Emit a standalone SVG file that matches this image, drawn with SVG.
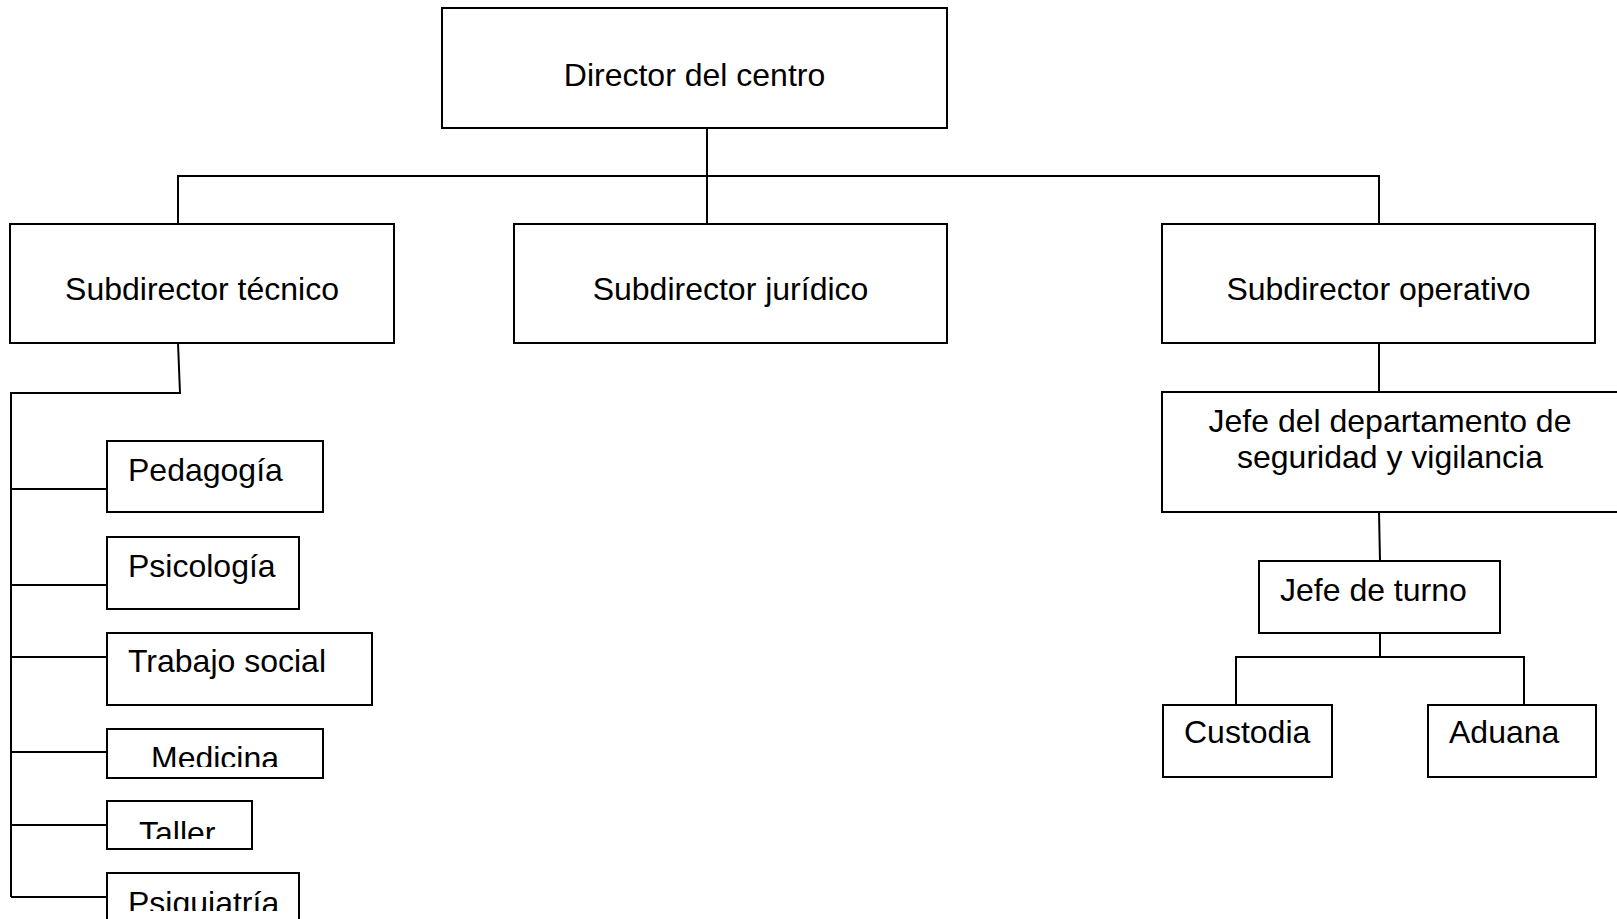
<svg xmlns="http://www.w3.org/2000/svg" width="1617" height="919" viewBox="0 0 1617 919">
<style>
.box{fill:#fff;stroke:#000;stroke-width:2}
.ln{fill:none;stroke:#000;stroke-width:2}
text{font-family:"Liberation Sans",Arial,sans-serif;font-size:32px;fill:#000}
.c{text-anchor:middle}
</style>
<defs>
<clipPath id="clipMed"><rect x="108" y="730" width="214" height="37"/></clipPath>
<clipPath id="clipTal"><rect x="108" y="802" width="143" height="37"/></clipPath>
<clipPath id="clipPsq"><rect x="108" y="874" width="190" height="37"/></clipPath>
</defs>
<g id="connectors">
<path class="ln" d="M707 128 V224"/>
<path class="ln" d="M178 224 V176 H1379 V224"/>
<path class="ln" d="M178 343 L180 393 H11 V897"/>
<path class="ln" d="M11 489 H107 M11 585 H107 M11 657 H107 M11 752 H107 M11 825 H107 M11 897 H107"/>
<path class="ln" d="M1379 343 V392"/>
<path class="ln" d="M1379 512 L1380 561"/>
<path class="ln" d="M1380 633 V657 M1236 705 V657 H1524 V705"/>
</g>
<g id="director"><rect class="box" x="442" y="8" width="505" height="120"/><text class="c" x="694.5" y="86">Director del centro</text></g>
<g id="sub-tecnico"><rect class="box" x="10" y="224" width="384" height="119"/><text class="c" x="202" y="300">Subdirector técnico</text></g>
<g id="sub-juridico"><rect class="box" x="514" y="224" width="433" height="119"/><text class="c" x="730.5" y="300">Subdirector jurídico</text></g>
<g id="sub-operativo"><rect class="box" x="1162" y="224" width="433" height="119"/><text class="c" x="1378.5" y="300">Subdirector operativo</text></g>
<g id="pedagogia"><rect class="box" x="107" y="441" width="216" height="71"/><text x="128" y="481">Pedagogía</text></g>
<g id="psicologia"><rect class="box" x="107" y="537" width="192" height="72"/><text x="128" y="577">Psicología</text></g>
<g id="trabajo-social"><rect class="box" x="107" y="633" width="265" height="72"/><text x="128" y="672">Trabajo social</text></g>
<g id="medicina"><rect class="box" x="107" y="729" width="216" height="49"/><text x="151" y="769" clip-path="url(#clipMed)">Medicina</text></g>
<g id="taller"><rect class="box" x="107" y="801" width="145" height="48"/><text x="139" y="844" clip-path="url(#clipTal)">Taller</text></g>
<g id="psiquiatria"><rect class="box" x="107" y="873" width="192" height="80"/><text x="128" y="914" clip-path="url(#clipPsq)">Psiquiatría</text></g>
<g id="jefe-depto"><rect class="box" x="1162" y="392" width="457" height="120"/><text class="c" x="1390" y="432">Jefe del departamento de</text><text class="c" x="1390" y="468">seguridad y vigilancia</text></g>
<g id="jefe-turno"><rect class="box" x="1259" y="561" width="241" height="72"/><text x="1280" y="601">Jefe de turno</text></g>
<g id="custodia"><rect class="box" x="1163" y="705" width="169" height="72"/><text x="1184" y="743">Custodia</text></g>
<g id="aduana"><rect class="box" x="1428" y="705" width="168" height="72"/><text x="1449" y="743">Aduana</text></g>
</svg>
